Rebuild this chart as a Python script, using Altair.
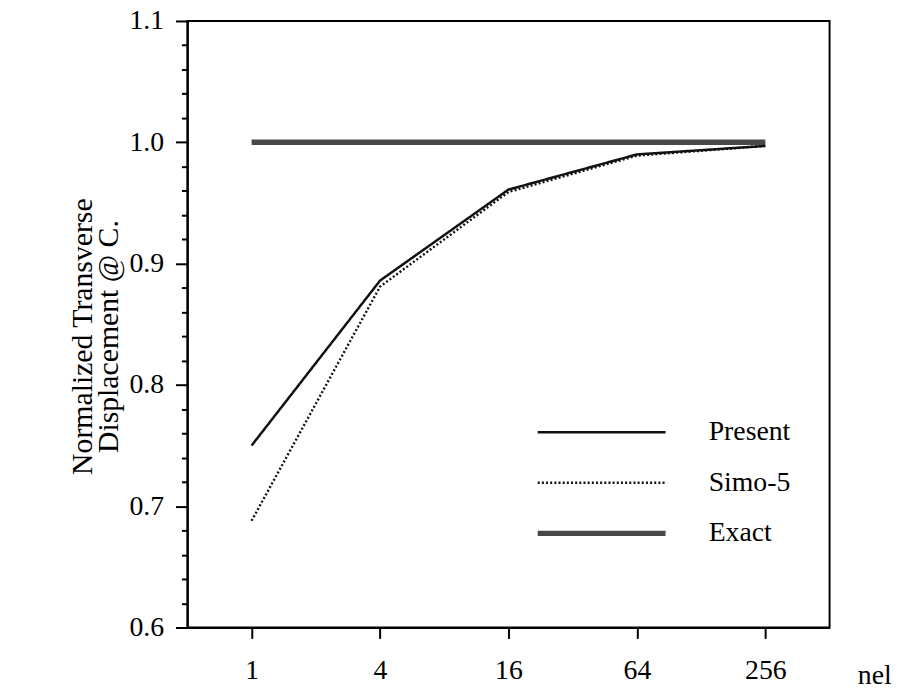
import altair as alt
import pandas as pd

# ---- data ----
nel = [1, 4, 16, 64, 256]
present = [0.750, 0.886, 0.961, 0.990, 0.997]
simo5 = [0.688, 0.881, 0.959, 0.989, 0.997]
exact = [1.000, 1.000, 1.000, 1.000, 1.000]
series_order = ["Present", "Simo-5", "Exact"]
y_major = [0.6, 0.7, 0.8, 0.9, 1.0, 1.1]
y_minor = [0.62, 0.64, 0.66, 0.68, 0.72, 0.74, 0.76, 0.78,
           0.82, 0.84, 0.86, 0.88, 0.92, 0.94, 0.96, 0.98,
           1.02, 1.04, 1.06, 1.08]

rows = []
for name, vals in (("Exact", exact), ("Simo-5", simo5), ("Present", present)):
    for n, v in zip(nel, vals):
        rows.append({"nel": n, "value": v, "series": name})
df = pd.DataFrame(rows)

FONT = "Liberation Serif, Times New Roman, Times, serif"

xenc = alt.X(
    "nel:Q",
    scale=alt.Scale(type="log", base=2, domain=[0.5, 512], nice=False),
    axis=alt.Axis(
        values=nel, format="d", title="nel", titleAngle=0,
        titleAlign="left", titleBaseline="alphabetic", titleX=676, titleY=57,
        titleFont=FONT, titleFontSize=28, titleFontWeight="normal", titleColor="black",
        labelFont=FONT, labelFontSize=28, labelColor="black", labelPadding=18,
        tickSize=11, tickWidth=2, tickColor="black", domainWidth=2, domainColor="black",
        grid=False,
    ),
)

yscale = alt.Scale(domain=[0.6, 1.1], nice=False, zero=False)

leg = alt.Legend(
    title=None, orient="none", legendX=404, legendY=401,
    symbolType="M-10,0H10", symbolSize=166.4, symbolStrokeColor="black",
    labelFont=FONT, labelFontSize=28, labelColor="black", labelOffset=94,
    rowPadding=23, labelLimit=300,
)

main = alt.Chart(df).mark_line().encode(
    x=xenc,
    y=alt.Y(
        "value:Q", scale=yscale,
        axis=alt.Axis(
            values=y_major, format=".1f",
            title=["Normalized Transverse", "Displacement @ C."],
            titleFont=FONT, titleFontSize=30, titleFontWeight="normal", titleColor="black",
            titleLineHeight=27, titleX=-97, titleY=318, titleAngle=-90,
            titleBaseline="alphabetic", titleAlign="center",
            labelFont=FONT, labelFontSize=28, labelColor="black", labelPadding=12,
            tickSize=12, tickWidth=2, tickColor="black", domainWidth=2, domainColor="black",
            grid=False,
        ),
    ),
    color=alt.Color("series:N", scale=alt.Scale(domain=series_order,
                                                 range=["#111111", "#111111", "#484848"]), legend=leg),
    strokeDash=alt.StrokeDash("series:N", scale=alt.Scale(domain=series_order,
                                                          range=[[1, 0], [2, 2.2], [1, 0]]), legend=leg),
    strokeWidth=alt.StrokeWidth("series:N", scale=alt.Scale(type="ordinal", domain=series_order,
                                                            range=[2.5, 2.4, 5.5]), legend=leg),
    detail="series:N",
)

minor = alt.Chart(df).mark_line(opacity=0).encode(
    x=xenc,
    y=alt.Y(
        "value:Q", scale=yscale,
        axis=alt.Axis(
            orient="left", values=y_minor, labels=False, title=None, domain=False,
            tickSize=6, tickWidth=2, tickColor="black", grid=False,
        ),
    ),
)

chart = (
    alt.layer(main, minor)
    .resolve_axis(y="independent")
    .properties(
        width=648, height=612,
        autosize=alt.AutoSizeParams(type="none"),
        padding={"left": 181, "top": 10, "right": 64, "bottom": 64},
        background="white",
    )
    .configure_view(stroke="black", strokeWidth=2)
)

chart.save("out.html", embed_options={"renderer": "svg", "actions": False})
